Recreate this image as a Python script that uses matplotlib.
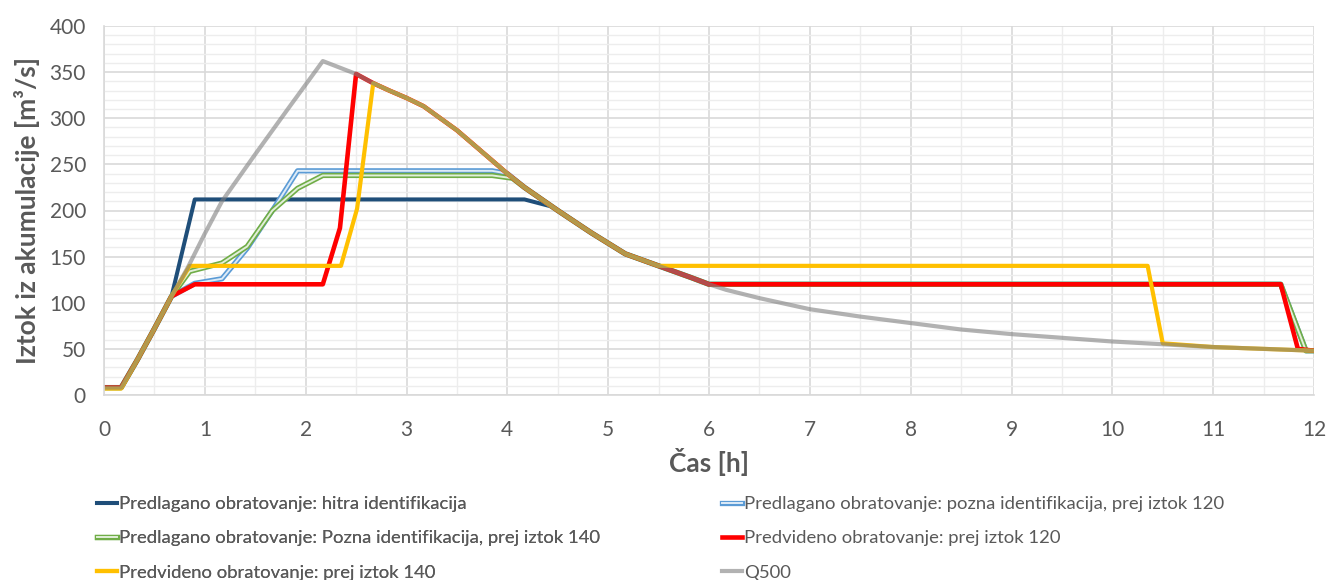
import matplotlib
matplotlib.use("Agg")
import matplotlib.pyplot as plt
import matplotlib.patheffects as pe
from matplotlib.ticker import MultipleLocator

plt.rcParams["font.family"] = ["Lato", "DejaVu Sans"]

# Q500 - dotok
t_q500 = [0, 0.17, 0.33, 0.5, 0.67, 0.83, 1.0, 1.17, 1.5, 1.83, 2.17, 2.5, 2.67,
          2.83, 3.0, 3.17, 3.5, 3.83, 4.0, 4.17, 4.5, 4.83, 5.17, 5.5, 5.83, 6.0,
          6.17, 6.5, 7.0, 7.5, 8.0, 8.5, 9.0, 9.5, 10.0, 10.5, 11.0, 11.5, 12.0]
q500 = [8, 8, 38, 72, 107, 138, 175, 210, 261, 311, 362, 348, 338,
        330, 322, 313, 287, 256, 240, 225, 200, 176, 153, 140, 127, 120,
        114, 105, 93, 85, 78, 71, 66, 62, 58, 55, 52, 50, 48]

# Predlagano obratovanje: hitra identifikacija
t_hitra = [0, 0.17, 0.33, 0.5, 0.67, 0.9, 4.17, 4.45, 4.83, 5.17, 5.5, 5.83,
           6.0, 11.67, 11.92, 12.0]
q_hitra = [8, 8, 38, 72, 107, 212, 212, 204, 176, 153, 140, 127,
           120, 120, 48, 48]

# Predlagano obratovanje: pozna identifikacija, prej iztok 120
t_pozna120 = [0, 0.17, 0.33, 0.5, 0.67, 0.9, 1.17, 1.42, 1.67, 1.92, 3.85, 4.0,
              4.17, 4.5, 4.83, 5.17, 5.5, 5.83, 6.0, 11.67, 11.92, 12.0]
q_pozna120 = [8, 8, 38, 72, 107, 121, 126, 159, 200, 243, 243, 240,
              225, 200, 176, 153, 140, 127, 120, 120, 48, 48]

# Predlagano obratovanje: Pozna identifikacija, prej iztok 140
t_pozna140 = [0, 0.17, 0.33, 0.5, 0.67, 0.85, 1.17, 1.42, 1.67, 1.92, 2.17, 3.85,
              4.05, 4.17, 4.5, 4.83, 5.17, 5.5, 5.83, 6.0, 11.67, 11.92, 12.0]
q_pozna140 = [8, 8, 38, 72, 107, 134, 143, 161, 200, 224, 238, 238,
              235, 225, 200, 176, 153, 140, 127, 120, 120, 48, 48]

# Predvideno obratovanje: prej iztok 120
t_pred120 = [0, 0.17, 0.33, 0.5, 0.67, 0.9, 2.17, 2.34, 2.5, 2.67, 2.83, 3.0,
             3.17, 3.5, 3.83, 4.0, 4.17, 4.5, 4.83, 5.17, 5.5, 5.83, 6.0,
             11.67, 11.84, 12.0]
q_pred120 = [8, 8, 38, 72, 107, 120, 120, 181, 348, 338, 330, 322,
             313, 287, 256, 240, 225, 200, 176, 153, 140, 127, 120,
             120, 50, 48]

# Predvideno obratovanje: prej iztok 140
t_pred140 = [0, 0.17, 0.33, 0.5, 0.67, 0.85, 2.35, 2.51, 2.67, 2.83, 3.0, 3.17,
             3.5, 3.83, 4.0, 4.17, 4.5, 4.83, 5.17, 5.5, 10.35, 10.5, 11.0,
             11.5, 12.0]
q_pred140 = [7, 7, 38, 72, 107, 140, 140, 202, 338, 330, 322, 313,
             287, 256, 240, 225, 200, 176, 153, 140, 140, 56, 52,
             50, 48]

labels = ["Predlagano obratovanje: hitra identifikacija",
          "Predlagano obratovanje: pozna identifikacija, prej iztok 120",
          "Predlagano obratovanje: Pozna identifikacija, prej iztok 140",
          "Predvideno obratovanje: prej iztok 120",
          "Predvideno obratovanje: prej iztok 140",
          "Q500"]

txt = "#595959"

fig = plt.figure(figsize=(13.28, 5.8), dpi=100)
ax = fig.add_axes([104 / 1328, 1 - 395 / 580, 1210 / 1328, 369 / 580])

def double(outer, inner):
    return [pe.Stroke(linewidth=3.8, foreground=outer),
            pe.Stroke(linewidth=1.4, foreground=inner)]

h = []
h += ax.plot(t_hitra, q_hitra, color="#1F4E79", lw=2.9, label=labels[0])
h += ax.plot(t_pozna120, q_pozna120, color="#5B9BD5", lw=3.8, label=labels[1],
             path_effects=double("#5B9BD5", "#DDEBF7"))
h += ax.plot(t_pozna140, q_pozna140, color="#70AD47", lw=3.8, label=labels[2],
             path_effects=double("#70AD47", "#E2EFDA"))
h += ax.plot(t_pred120, q_pred120, color="#FF0000", lw=3.3, label=labels[3])
h += ax.plot(t_pred140, q_pred140, color="#FFC000", lw=3.0, label=labels[4])
h += ax.plot(t_q500, q500, color="#808080", lw=3.0, alpha=0.6, label=labels[5])
for ln in h:
    ln.set_solid_joinstyle("round")

ax.set_xlim(0, 12)
ax.set_ylim(0, 400)
ax.xaxis.set_major_locator(MultipleLocator(1))
ax.xaxis.set_minor_locator(MultipleLocator(0.5))
ax.yaxis.set_major_locator(MultipleLocator(50))
ax.yaxis.set_minor_locator(MultipleLocator(10))
ax.grid(which="major", color="#D9D9D9", lw=1.2, zorder=0)
ax.grid(which="minor", color="#EDEDED", lw=1.0, zorder=0)
ax.set_axisbelow(True)
for s in ("top", "right"):
    ax.spines[s].set_visible(False)
for s in ("left", "bottom"):
    ax.spines[s].set_color("#D9D9D9")
    ax.spines[s].set_linewidth(1.2)
ax.tick_params(which="both", length=0, labelsize=15, labelcolor=txt)
ax.tick_params(axis="x", pad=18)
ax.tick_params(axis="y", pad=13)

ax.set_xlabel("Čas [h]", fontsize=19, fontweight="bold", color=txt, labelpad=6)
ax.set_ylabel("Iztok iz akumulacije [m³/s]", fontsize=19, fontweight="bold",
              color=txt, labelpad=7)

legend_kw = dict(loc="upper left", frameon=False, fontsize=13.3, labelcolor=txt,
                 handlelength=1.1, handletextpad=0.1, labelspacing=0.99,
                 borderaxespad=0, borderpad=0)
col1 = [0, 2, 4]
col2 = [1, 3, 5]
leg1 = fig.legend([h[i] for i in col1], [labels[i] for i in col1],
                  bbox_to_anchor=(97 / 1328, 1 - 496 / 580), **legend_kw)
fig.add_artist(leg1)
fig.legend([h[i] for i in col2], [labels[i] for i in col2],
           bbox_to_anchor=(722 / 1328, 1 - 496 / 580), **legend_kw)

fig.savefig("out.png", dpi=100)
